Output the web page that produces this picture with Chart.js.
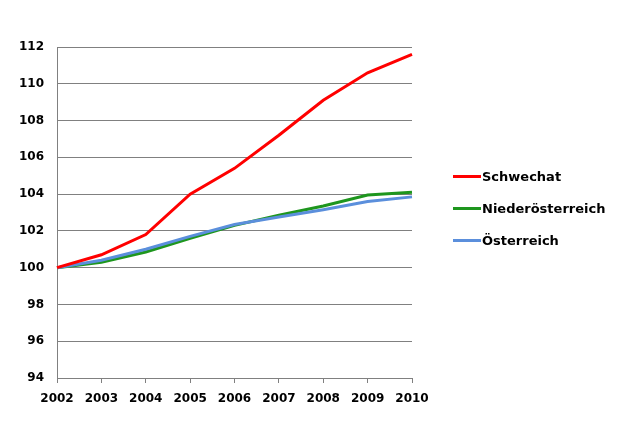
<!DOCTYPE html>
<html>
<head>
<meta charset="utf-8">
<script src="https://cdn.jsdelivr.net/npm/chart.js@4/dist/chart.umd.min.js"></script>
<style>
  html, body { margin: 0; padding: 0; background: #fff; }
  #wrap { position: relative; width: 631px; height: 432px; }
  #legend { position: absolute; left: 453px; top: 168px; font: bold 13px "DejaVu Sans", Verdana, sans-serif; color: #000; }
  #legend .item { height: 18px; line-height: 18px; margin-bottom: 14px; white-space: nowrap; }
  #legend .swatch { display: inline-block; width: 28px; height: 3px; vertical-align: middle; margin-right: 1px; position: relative; top: -1px; }
</style>
</head>
<body>
<div id="wrap">
  <canvas id="chart" width="631" height="432"></canvas>
  <div id="legend"></div>
</div>
<script>
const years = ['2002', '2003', '2004', '2005', '2006', '2007', '2008', '2009', '2010'];
const schwechat = [100, 100.7, 101.8, 104.0, 105.4, 107.2, 109.1, 110.6, 111.6];
const niederoesterreich = [100, 100.3, 100.85, 101.6, 102.3, 102.85, 103.35, 103.95, 104.1];
const oesterreich = [100, 100.4, 101.0, 101.7, 102.35, 102.75, 103.15, 103.6, 103.85];

const gridGrey = '#808080';
const tickFont = { family: 'DejaVu Sans', size: 12, weight: 'bold' };

const ctx = document.getElementById('chart').getContext('2d');
const chart = new Chart(ctx, {
    type: 'line',
    data: {
        labels: years,
        datasets: [
            { label: 'Schwechat', data: schwechat, borderColor: '#ff0000', order: 0 },
            { label: 'Niederösterreich', data: niederoesterreich, borderColor: '#1e961e', order: 2 },
            { label: 'Österreich', data: oesterreich, borderColor: '#5b8fdc', order: 1 }
        ]
    },
    options: {
        responsive: false,
        animation: false,
        layout: { padding: { top: 47, right: 219, left: 0, bottom: 0 } },
        elements: {
            line: { borderWidth: 3, tension: 0, fill: false },
            point: { radius: 0, hoverRadius: 0 }
        },
        plugins: { legend: { display: false }, tooltip: { enabled: false } },
        scales: {
            x: {
                grid: { drawOnChartArea: false, drawTicks: true, tickLength: 5, color: gridGrey },
                border: { color: gridGrey },
                ticks: { color: '#000', font: tickFont, padding: 9, maxRotation: 0 },
                afterFit: s => { s.height = 54; }
            },
            y: {
                min: 94, max: 112,
                grid: { color: gridGrey, drawTicks: false },
                border: { color: gridGrey },
                ticks: { stepSize: 2, color: '#000', font: tickFont, padding: 13 },
                afterFit: s => { s.width = 57; }
            }
        }
    }
});

// legend built from the chart's datasets
const legendEl = document.getElementById('legend');
chart.data.datasets.forEach(ds => {
    const row = document.createElement('div');
    row.className = 'item';
    const sw = document.createElement('span');
    sw.className = 'swatch';
    sw.style.background = ds.borderColor;
    row.appendChild(sw);
    row.appendChild(document.createTextNode(ds.label));
    legendEl.appendChild(row);
});
</script>
</body>
</html>
